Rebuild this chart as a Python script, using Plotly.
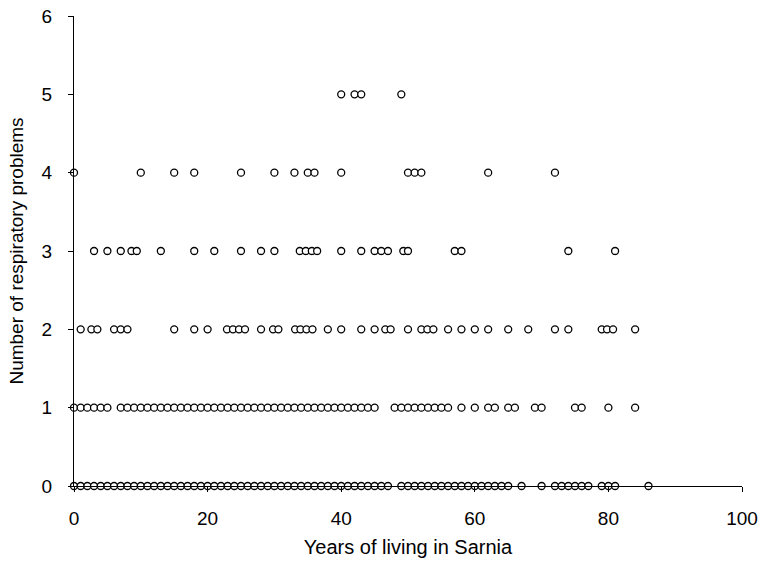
import plotly.graph_objects as go

# Years of living in Sarnia, grouped by number of respiratory problems
years_0 = [0, 1, 2, 3, 4, 5, 6, 7, 8, 9, 10, 11, 12, 13, 14, 15, 16, 17, 18, 19,
           20, 21, 22, 23, 24, 25, 26, 27, 28, 29, 30, 31, 32, 33, 34, 35, 36, 37,
           38, 39, 40, 41, 42, 43, 44, 45, 46, 47, 49, 50, 51, 52, 53, 54, 55, 56,
           57, 58, 59, 60, 61, 62, 63, 64, 65, 67, 70, 72, 73, 74, 75, 76, 77, 79,
           80, 81, 86]
years_1 = [0, 1, 2, 3, 4, 5, 7, 8, 9, 10, 11, 12, 13, 14, 15, 16, 17, 18, 19, 20,
           21, 22, 23, 24, 25, 26, 27, 28, 29, 30, 31, 32, 33, 34, 35, 36, 37, 38,
           39, 40, 41, 42, 43, 44, 45, 48, 49, 50, 51, 52, 53, 54, 55, 56, 58, 60,
           62, 63, 65, 66, 69, 70, 75, 76, 80, 84]
years_2 = [1, 2.6, 3.5, 6, 7, 8, 15, 18, 20, 22.9, 23.8, 24.7, 25.6, 28, 29.8, 30.6,
           33.1, 33.9, 34.8, 35.7, 38, 40, 43, 45, 46.6, 47.4, 50, 52, 52.9, 53.8,
           56, 58, 60, 62, 65, 68, 72, 74, 79, 79.8, 80.7, 84]
years_3 = [3, 5, 7, 8.6, 9.4, 13, 18, 21, 25, 28, 30, 33.8, 34.7, 35.6, 36.4, 40,
           43, 45, 46, 47, 49.3, 50, 57, 58, 74, 81]
years_4 = [0, 10, 15, 18, 25, 30, 33, 35, 36, 40, 50, 51, 52, 62, 72]
years_5 = [40, 42, 43, 49]

groups = [(0, years_0), (1, years_1), (2, years_2), (3, years_3), (4, years_4), (5, years_5)]

xs, ys = [], []
for count, yrs in groups:
    xs.extend(yrs)
    ys.extend([count] * len(yrs))

font = "Liberation Sans, Arial, sans-serif"

fig = go.Figure()
fig.add_trace(go.Scatter(
    x=xs, y=ys, mode="markers", cliponaxis=False,
    marker=dict(symbol="circle", size=7, color="white",
                line=dict(color="black", width=1.3)),
    showlegend=False,
))

fig.update_layout(
    width=764, height=568,
    margin=dict(l=74, r=22, t=16, b=82),
    paper_bgcolor="white", plot_bgcolor="white",
    font=dict(family=font, color="black"),
)
fig.update_xaxes(
    range=[0, 100], tickvals=[0, 20, 40, 60, 80, 100], automargin=False,
    showgrid=False, zeroline=False, showline=True, linecolor="black", linewidth=1,
    ticks="outside", ticklen=5, tickcolor="black", tickfont=dict(size=19),
    ticklabelstandoff=10,
    title=dict(text="Years of living in Sarnia", font=dict(size=20), standoff=12),
)
fig.update_yaxes(
    range=[0, 6], tickvals=[0, 1, 2, 3, 4, 5, 6], automargin=False,
    showgrid=False, zeroline=False, showline=True, linecolor="black", linewidth=1,
    ticks="outside", ticklen=5, tickcolor="black", tickfont=dict(size=19),
    ticklabelstandoff=12,
    title=dict(text="Number of respiratory problems", font=dict(size=19), standoff=12),
)

fig.write_html("out.html")
